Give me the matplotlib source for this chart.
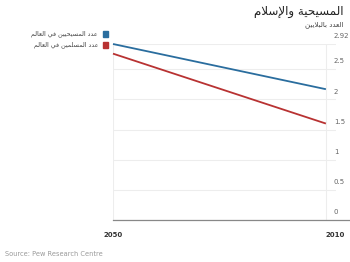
import matplotlib
matplotlib.use('Agg')
import matplotlib.pyplot as plt
import matplotlib.transforms as mtransforms

# البيانات (بالبلايين)
years = [2050, 2010]
christians = [2.92, 2.17]
muslims = [2.76, 1.60]
series_names = ['عدد المسيحيين في العالم', 'عدد المسلمين في العالم']
series_colors = ['#2a6d9e', '#b83232']
yticks = [0, 0.5, 1, 1.5, 2, 2.5, 2.92]
ytick_labels = ['0', '0.5', '1', '1.5', '2', '2.5', '2.92']
title = 'المسيحية والإسلام'
subtitle = 'العدد بالبلايين'
source = 'Source: Pew Research Centre'

# matplotlib 3.10 does no arabic shaping, so do it by hand
# (base code point in presentation forms B, number of forms)
ARABIC = {
    'ء': (0xFE80, 1), 'آ': (0xFE81, 2), 'أ': (0xFE83, 2), 'ؤ': (0xFE85, 2),
    'إ': (0xFE87, 2), 'ئ': (0xFE89, 4), 'ا': (0xFE8D, 2), 'ب': (0xFE8F, 4),
    'ة': (0xFE93, 2), 'ت': (0xFE95, 4), 'ث': (0xFE99, 4), 'ج': (0xFE9D, 4),
    'ح': (0xFEA1, 4), 'خ': (0xFEA5, 4), 'د': (0xFEA9, 2), 'ذ': (0xFEAB, 2),
    'ر': (0xFEAD, 2), 'ز': (0xFEAF, 2), 'س': (0xFEB1, 4), 'ش': (0xFEB5, 4),
    'ص': (0xFEB9, 4), 'ض': (0xFEBD, 4), 'ط': (0xFEC1, 4), 'ظ': (0xFEC5, 4),
    'ع': (0xFEC9, 4), 'غ': (0xFECD, 4), 'ف': (0xFED1, 4), 'ق': (0xFED5, 4),
    'ك': (0xFED9, 4), 'ل': (0xFEDD, 4), 'م': (0xFEE1, 4), 'ن': (0xFEE5, 4),
    'ه': (0xFEE9, 4), 'و': (0xFEED, 2), 'ى': (0xFEEF, 2), 'ي': (0xFEF1, 4),
}
LAM_ALEF = {'آ': 0xFEF5, 'أ': 0xFEF7, 'إ': 0xFEF9, 'ا': 0xFEFB}


def shape(txt):
    items = []
    i = 0
    while i < len(txt):
        c = txt[i]
        if c == 'ل' and i + 1 < len(txt) and txt[i + 1] in LAM_ALEF:
            items.append((LAM_ALEF[txt[i + 1]], 2))
            i += 2
            continue
        items.append(ARABIC.get(c, c))
        i += 1
    out = []
    for k, it in enumerate(items):
        if isinstance(it, str):
            out.append(it)
            continue
        prev = items[k - 1] if k > 0 else None
        nxt = items[k + 1] if k + 1 < len(items) else None
        join_prev = isinstance(prev, tuple) and prev[1] == 4 and it[1] >= 2
        join_next = it[1] == 4 and isinstance(nxt, tuple) and nxt[1] >= 2
        if join_prev and join_next:
            f = 3
        elif join_prev:
            f = 1
        elif join_next:
            f = 2
        else:
            f = 0
        out.append(chr(it[0] + f))
    return ''.join(out)[::-1]


plt.rcParams['font.family'] = ['DejaVu Sans', 'Noto Sans']

fig = plt.figure(figsize=(3.5, 2.62), dpi=100)
ax = fig.add_axes([113 / 350, 1 - 220 / 262, (336 - 113) / 350, (220 - 44) / 262])

for vals, name, col in zip([christians, muslims], series_names, series_colors):
    ax.plot(years, vals, color=col, lw=1.3, solid_capstyle='butt', clip_on=False)

ax.set_xlim(2050, 2008.1)
ax.set_ylim(0, 2.92)
ax.set_yticks(yticks)
ax.set_xticks(years)
ax.grid(True, color='#ededed', lw=0.8)
ax.set_axisbelow(True)
ax.tick_params(length=0)
ax.set_yticklabels([])
ax.set_xticklabels([])
for s in ['top', 'right', 'left', 'bottom']:
    ax.spines[s].set_visible(False)

# y labels at the right, a bit above each grid line
off = mtransforms.offset_copy(ax.get_yaxis_transform(), fig=fig, x=0, y=3.5, units='points')
ytr = mtransforms.blended_transform_factory(fig.transFigure, off)
for v, lab in zip(yticks, ytick_labels):
    ax.text(334 / 350, v, lab, transform=ytr, fontsize=5, color='#666666', ha='left', va='bottom')

# x labels
xtr = ax.get_xaxis_transform()
ax.text(years[0], -0.07, str(years[0]), transform=xtr, ha='center', va='top',
        fontsize=5, fontweight='bold', color='#333333')
ax.text(years[1], -0.07, str(years[1]), transform=xtr, ha='left', va='top',
        fontsize=5, fontweight='bold', color='#333333')

# bottom axis line
fig.add_artist(plt.Line2D([113 / 350, 1.0], [1 - 220 / 262] * 2, color='#888888', lw=0.9))

# title
fig.text(343 / 350, 1 - 12 / 262, shape(title), ha='right', va='center', fontsize=8.6, color='#222222')
fig.text(343 / 350, 1 - 25 / 262, shape(subtitle), ha='right', va='center', fontsize=5.0, color='#444444')

# legend
for k, (name, col) in enumerate(zip(series_names, series_colors)):
    y = 1 - (34 + 11 * k) / 262
    fig.text(98 / 350, y, shape(name), ha='right', va='center', fontsize=4.6, color='#444444')
    fig.patches.append(plt.Rectangle((102.5 / 350, y - 2.7 / 262), 5.4 / 350, 5.4 / 262,
                                     transform=fig.transFigure, color=col, figure=fig))

fig.text(5 / 350, 1 - 254 / 262, source, ha='left', va='center', fontsize=4.8, color='#999999')

fig.savefig('out.png', dpi=100)
